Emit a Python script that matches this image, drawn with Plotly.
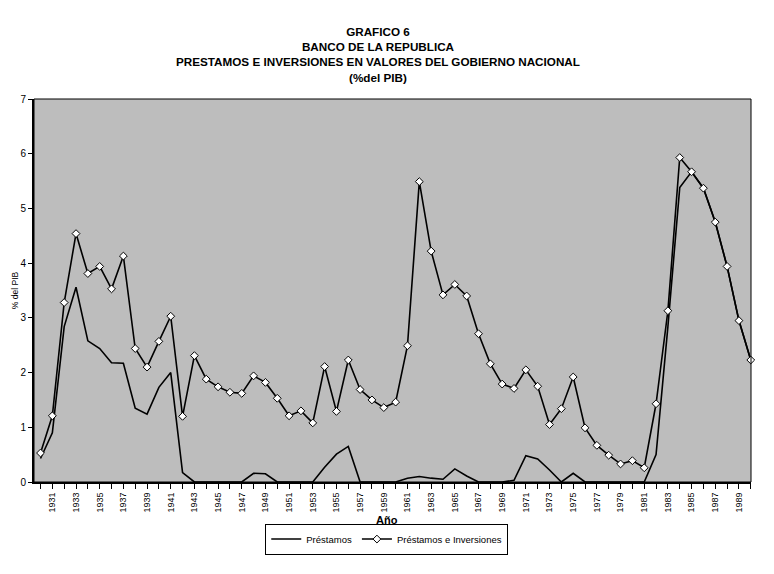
import plotly.graph_objects as go

years = list(range(1930, 1991))

prestamos = [
    0.43, 0.90, 2.84, 3.56, 2.58, 2.44, 2.18, 2.17, 1.35, 1.24,
    1.73, 2.00, 0.17, 0.00, 0.00, 0.00, 0.01, 0.00, 0.16, 0.15,
    0.00, 0.00, 0.00, 0.00, 0.27, 0.51, 0.65, 0.00, 0.00, 0.00,
    0.00, 0.07, 0.10, 0.07, 0.05, 0.24, 0.11, 0.00, 0.00, 0.00,
    0.03, 0.48, 0.42, 0.22, 0.00, 0.16, 0.00, 0.00, 0.00, 0.00,
    0.00, 0.00, 0.50, 2.84, 5.38, 5.67, 5.37, 4.75, 3.94, 2.95, 2.23,
]

prest_inv = [
    0.53, 1.21, 3.28, 4.54, 3.81, 3.94, 3.53, 4.13, 2.44, 2.10,
    2.57, 3.03, 1.20, 2.31, 1.88, 1.74, 1.64, 1.62, 1.94, 1.82,
    1.53, 1.21, 1.30, 1.08, 2.11, 1.29, 2.23, 1.69, 1.50, 1.36,
    1.46, 2.49, 5.49, 4.22, 3.42, 3.61, 3.40, 2.71, 2.16, 1.79,
    1.71, 2.05, 1.75, 1.05, 1.34, 1.92, 0.99, 0.67, 0.49, 0.33,
    0.39, 0.26, 1.43, 3.13, 5.93, 5.67, 5.37, 4.75, 3.94, 2.95, 2.23,
]

title_lines = [
    "GRAFICO 6",
    "BANCO DE LA REPUBLICA",
    "PRESTAMOS E INVERSIONES EN VALORES DEL GOBIERNO NACIONAL",
    "(%del PIB)",
]

FONT = "Liberation Sans Narrow, Liberation Sans, Arial, sans-serif"
FONT_W = "Liberation Sans, Arial, sans-serif"

fig = go.Figure()
fig.add_trace(go.Scatter(
    x=years, y=prestamos, mode="lines", name="Préstamos",
    line=dict(color="black", width=1.6), cliponaxis=False,
))
fig.add_trace(go.Scatter(
    x=years, y=prest_inv, mode="lines+markers", name="Préstamos e Inversiones",
    line=dict(color="black", width=1.6),
    marker=dict(symbol="diamond", size=6, color="white",
                line=dict(color="black", width=1)),
    cliponaxis=False,
))

fig.update_layout(
    width=766, height=566,
    margin=dict(l=26, r=23, t=91, b=92),
    paper_bgcolor="white",
    plot_bgcolor="#bdbdbd",
    font=dict(family=FONT, color="black"),
    showlegend=True,
    legend=dict(
        orientation="h", x=0.492, xanchor="center", y=-0.149, yanchor="middle",
        bordercolor="black", borderwidth=1, bgcolor="white",
        font=dict(size=9.5, family=FONT), itemwidth=30,
        tracegroupgap=0,
    ),
    xaxis=dict(
        range=[1929.45, 1990.02],
        tickmode="linear", tick0=1931, dtick=2,
        tickangle=-90, tickfont=dict(size=9, family=FONT),
        ticks="outside", ticklen=5, tickcolor="black", tickwidth=1,
        minor=dict(tick0=1930, dtick=1, ticks="outside", ticklen=5,
                   tickcolor="black", tickwidth=1, showgrid=False),
        showgrid=False, zeroline=False,
        showline=True, linecolor="black", linewidth=2,
    ),
    yaxis=dict(
        range=[0, 7], tickmode="linear", tick0=0, dtick=1,
        tickfont=dict(size=10, family=FONT_W),
        ticks="outside", ticklen=4, tickcolor="black",
        showgrid=False, zeroline=False,
        showline=True, linecolor="black", linewidth=2,
    ),
)

# frame around plot area
fig.add_shape(type="rect", xref="paper", yref="paper", x0=0, y0=0, x1=1, y1=1,
              line=dict(color="black", width=1), layer="above")

fig.add_annotation(
    text="<br>".join("<b>%s</b>" % t for t in title_lines),
    xref="paper", yref="paper", x=0.48, y=1.115, xanchor="center", yanchor="middle",
    showarrow=False, font=dict(size=11.7, family=FONT_W), align="center",
)
fig.add_annotation(
    text="<b>Año</b>", xref="paper", yref="paper", x=0.492, y=-0.099,
    xanchor="center", yanchor="middle", showarrow=False,
    font=dict(size=11, family=FONT_W),
)
fig.add_annotation(
    text="% del PIB", xref="paper", yref="paper", x=-0.027, y=0.5,
    xanchor="center", yanchor="middle", textangle=-90, showarrow=False,
    borderpad=0, font=dict(size=8.5, family=FONT),
)

fig.write_html("out.html")
